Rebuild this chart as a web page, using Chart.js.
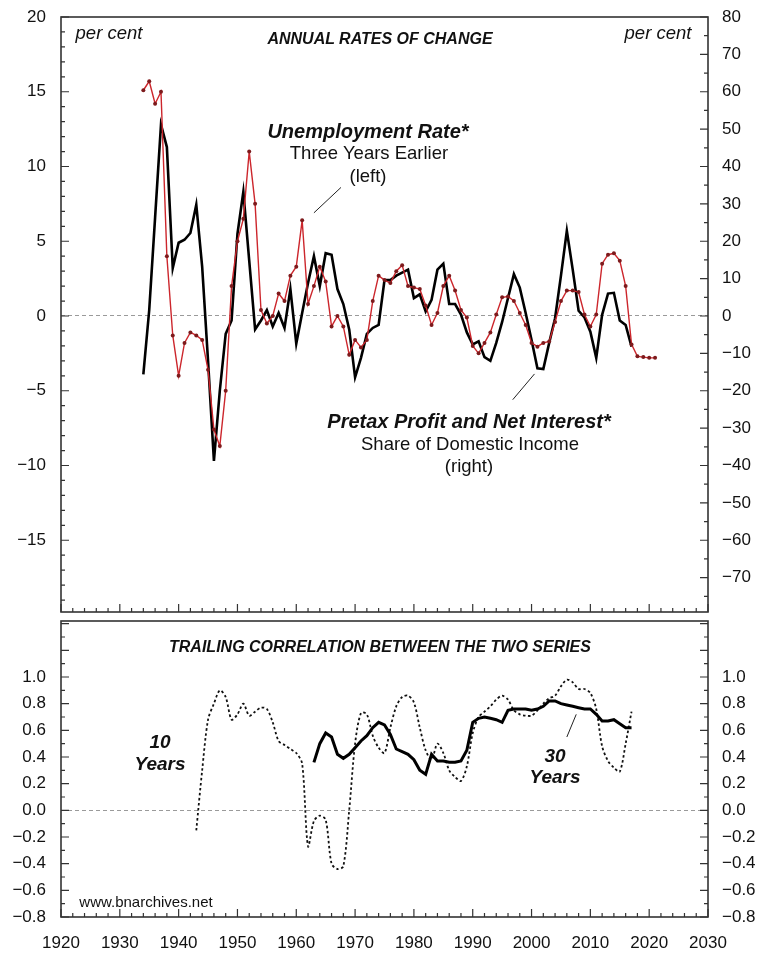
<!DOCTYPE html>
<html lang="en">
<head>
<meta charset="UTF-8">
<title>Unemployment and Profit Share</title>
<script src="https://cdn.jsdelivr.net/npm/chart.js"></script>
<style>
  body { margin: 0; background: #fff; width: 778px; height: 955px; position: relative; overflow: hidden;
         font-family: 'Liberation Sans', Arial, Helvetica, sans-serif; color: #111; }
  canvas { position: absolute; left: 0; }
  #topChart { top: 0; }
  #bottomChart { top: 616px; }
  .t { position: absolute; white-space: nowrap; line-height: 1; transform: translate(-50%, -50%); }
  .bi { font-weight: bold; font-style: italic; }
  .it { font-style: italic; }
</style>
</head>
<body>
<canvas id="topChart" width="778" height="616"></canvas>
<canvas id="bottomChart" width="778" height="339"></canvas>

<!-- text on top panel -->
<div class="t it" style="left:109px; top:33px; font-size:18.5px;">per cent</div>
<div class="t it" style="left:658px; top:33px; font-size:18.5px;">per cent</div>
<div class="t bi" style="left:380px; top:39px; font-size:16px;">ANNUAL RATES OF CHANGE</div>
<div class="t bi" style="left:368px; top:131px; font-size:20px;">Unemployment Rate*</div>
<div class="t" style="left:369px; top:153px; font-size:18.5px;">Three Years Earlier</div>
<div class="t" style="left:368px; top:176px; font-size:18.5px;">(left)</div>
<div class="t bi" style="left:469px; top:421px; font-size:20px;">Pretax Profit and Net Interest*</div>
<div class="t" style="left:470px; top:444px; font-size:18.5px;">Share of Domestic Income</div>
<div class="t" style="left:469px; top:466px; font-size:18.5px;">(right)</div>

<!-- text on bottom panel -->
<div class="t bi" style="left:380px; top:647px; font-size:16px;">TRAILING CORRELATION BETWEEN THE TWO SERIES</div>
<div class="t bi" style="left:160px; top:741px; font-size:19px;">10</div>
<div class="t bi" style="left:160px; top:763px; font-size:19px;">Years</div>
<div class="t bi" style="left:555px; top:755px; font-size:19px;">30</div>
<div class="t bi" style="left:555px; top:776px; font-size:19px;">Years</div>
<div class="t" style="left:146px; top:901px; font-size:15px;">www.bnarchives.net</div>

<script>
// ---- data ----
const years = { min: 1920, max: 2030 };
const xTicks = [1920, 1930, 1940, 1950, 1960, 1970, 1980, 1990, 2000, 2010, 2020, 2030];
const leftTicks = [20, 15, 10, 5, 0, -5, -10, -15];
const rightTicks = [80, 70, 60, 50, 40, 30, 20, 10, 0, -10, -20, -30, -40, -50, -60, -70];
const corrTicks = [1.0, 0.8, 0.6, 0.4, 0.2, 0.0, -0.2, -0.4, -0.6, -0.8];

// unemployment rate three years earlier, annual % change (left), 1934-2021
const unempStart = 1934;
const unemployment = [
  15.1, 15.7, 14.2, 15.0, 4.0, -1.3, -4.0, -1.8, -1.1, -1.3,
  -1.6, -3.6, -7.6, -8.7, -5.0, 2.0, 5.0, 6.5, 11.0, 7.5,
  0.4, -0.5, 0.0, 1.5, 1.0, 2.7, 3.3, 6.4, 0.8, 2.0,
  3.3, 2.3, -0.7, 0.0, -0.7, -2.6, -1.6, -2.1, -1.6, 1.0,
  2.7, 2.4, 2.2, 3.0, 3.4, 2.0, 1.9, 1.8, 0.7, -0.6,
  0.2, 2.0, 2.7, 1.7, 0.4, -0.1, -2.0, -2.5, -1.8, -1.1,
  0.1, 1.25, 1.3, 1.0, 0.2, -0.6, -1.8, -2.05, -1.8, -1.7,
  -0.4, 1.0, 1.7, 1.7, 1.6, 0.1, -0.7, 0.1, 3.5, 4.1,
  4.2, 3.7, 2.0, -1.9, -2.7, -2.75, -2.8, -2.8
];

// pretax profit and net interest share of domestic income, annual % change (right), 1934-2017
const profitStart = 1934;
const profitShare = [
  -15.6, 1.6, 26.4, 51.2, 45.2, 12.8, 19.6, 20.4, 22.2, 29.8,
  13.2, -12.0, -38.8, -20.0, -4.8, -1.2, 22.0, 33.2, 14.8, -3.6,
  -1.2, 1.6, -2.8, 0.8, -3.2, 7.2, -7.4, 0.8, 8.8, 16.0,
  8.0, 16.8, 16.4, 7.2, 3.2, -3.6, -16.4, -11.2, -4.8, -3.2,
  -2.4, 9.6, 9.6, 10.8, 11.6, 12.4, 4.8, 5.8, 1.2, 4.3,
  12.4, 14.0, 3.2, 3.2, 0.4, -4.4, -7.6, -6.8, -11.0, -12.0,
  -7.2, -1.6, 4.8, 11.2, 7.6, 0.8, -6.4, -14.0, -14.2, -7.2,
  -0.6, 10.8, 22.8, 12.4, 1.4, -0.4, -4.2, -11.2, 0.3, 6.0,
  6.2, -1.2, -2.4, -8.2
];

// trailing correlations
const corr10Start = 1943;
const corr10 = [
  -0.15, 0.3, 0.68, 0.8, 0.9, 0.85, 0.68, 0.72, 0.8, 0.71,
  0.74, 0.77, 0.76, 0.66, 0.52, 0.49, 0.46, 0.43, 0.35, -0.27,
  -0.08, -0.04, -0.07, -0.4, -0.44, -0.42, 0.0, 0.5, 0.73, 0.72,
  0.56, 0.47, 0.43, 0.62, 0.78, 0.85, 0.86, 0.81, 0.62, 0.45,
  0.38, 0.5, 0.43, 0.3, 0.25, 0.22, 0.33, 0.58, 0.7, 0.74,
  0.78, 0.83, 0.86, 0.83, 0.75, 0.72, 0.71, 0.71, 0.75, 0.8,
  0.84, 0.86, 0.93, 0.98, 0.96, 0.91, 0.91, 0.88, 0.76, 0.48,
  0.37, 0.32, 0.29, 0.5, 0.74
];
const corr30Start = 1963;
const corr30 = [
  0.36, 0.5, 0.58, 0.55, 0.42, 0.39, 0.42, 0.47, 0.52, 0.56,
  0.62, 0.66, 0.64, 0.57, 0.46, 0.44, 0.42, 0.38, 0.3, 0.27,
  0.42, 0.37, 0.37, 0.36, 0.36, 0.37, 0.45, 0.66, 0.69, 0.7,
  0.69, 0.68, 0.66, 0.75, 0.76, 0.76, 0.76, 0.75, 0.76, 0.78,
  0.82, 0.82, 0.8, 0.79, 0.78, 0.77, 0.76, 0.76, 0.72, 0.67,
  0.67, 0.68, 0.65, 0.62, 0.62
];

// pointer lines for the labels, in data units [x, y] -> [x, y]
const unempPointer = [[1963.0, 6.9], [1967.6, 8.6]];
const profitPointer = [[1996.8, -22.4], [2000.5, -15.5]];
const corrPointer = [[2006.0, 0.55], [2007.6, 0.72]];

const toPoints = (start, arr) => arr.map((v, i) => ({ x: start + i, y: v }));
const minus = v => String(v).replace('-', '\u2212');
const tickFont = { family: "'Liberation Sans', Arial, sans-serif", size: 17 };

// frame + inward tick marks + pointers
function innerTicks(chart, id, step, major, edge) {
  const s = chart.scales[id], a = chart.chartArea, ctx = chart.ctx;
  const n0 = Math.ceil(s.min / step - 1e-9), n1 = Math.floor(s.max / step + 1e-9);
  const every = Math.round(major / step);
  ctx.beginPath();
  for (let n = n0; n <= n1; n++) {
    const len = (n % every === 0) ? 8 : 4;
    const p = s.getPixelForValue(n * step);
    if (edge === 'bottom') { ctx.moveTo(p, a.bottom); ctx.lineTo(p, a.bottom - len); }
    if (edge === 'left') { ctx.moveTo(a.left, p); ctx.lineTo(a.left + len, p); }
    if (edge === 'right') { ctx.moveTo(a.right, p); ctx.lineTo(a.right - len, p); }
  }
  ctx.stroke();
}

function framePlugin(tickSpec, pointer) {
  return {
    id: 'frame',
    afterDraw(chart) {
      const ctx = chart.ctx, a = chart.chartArea;
      ctx.save();
      ctx.strokeStyle = '#333';
      ctx.lineWidth = 1.2;
      tickSpec.forEach(t => innerTicks(chart, t[0], t[1], t[2], t[3]));
      ctx.lineWidth = 1.6;
      ctx.strokeRect(a.left, a.top, a.right - a.left, a.bottom - a.top);
      ctx.lineWidth = 1;
      ctx.strokeStyle = '#222';
      pointer.forEach(([p0, p1, yId]) => {
        const sx = chart.scales.x, sy = chart.scales[yId];
        ctx.beginPath();
        ctx.moveTo(sx.getPixelForValue(p0[0]), sy.getPixelForValue(p0[1]));
        ctx.lineTo(sx.getPixelForValue(p1[0]), sy.getPixelForValue(p1[1]));
        ctx.stroke();
      });
      ctx.restore();
    }
  };
}

function yAxis(pos, min, max, ticks, width, fmt, zeroLine) {
  return {
    position: pos, min: min, max: max,
    afterBuildTicks: s => { s.ticks = ticks.map(v => ({ value: v })); },
    afterFit: s => { s.width = width; s.paddingTop = 0; s.paddingBottom = 0; },
    ticks: { font: tickFont, color: '#111', padding: pos === 'left' ? 15 : 14, callback: fmt },
    grid: {
      drawTicks: false,
      drawOnChartArea: zeroLine,
      color: c => (c.tick && c.tick.value === 0) ? '#9a9a9a' : 'rgba(0,0,0,0)',
      lineWidth: 1
    },
    border: { display: false, dash: [4, 3] }
  };
}

// ---- top panel ----
new Chart(document.getElementById('topChart'), {
  type: 'line',
  data: {
    datasets: [
      {
        label: 'Unemployment Rate',
        data: toPoints(unempStart, unemployment),
        yAxisID: 'yL',
        borderColor: '#cc262c',
        borderWidth: 1.4,
        pointRadius: 2,
        pointBackgroundColor: '#7d1a1c',
        pointBorderWidth: 0,
        tension: 0
      },
      {
        label: 'Profit Share',
        data: toPoints(profitStart, profitShare),
        yAxisID: 'yR',
        borderColor: '#000',
        borderWidth: 2.6,
        pointRadius: 0,
        tension: 0
      }
    ]
  },
  options: {
    responsive: false,
    animation: false,
    layout: { padding: { top: 17, bottom: 3, left: 0, right: 0 } },
    plugins: { legend: { display: false }, tooltip: { enabled: false } },
    scales: {
      x: { type: 'linear', min: years.min, max: years.max, display: false },
      yL: yAxis('left', -19.8, 20, leftTicks, 61, v => minus(v), true),
      yR: yAxis('right', -79.2, 80, rightTicks, 70, v => minus(v), false)
    }
  },
  plugins: [framePlugin(
    [['yL', 1, 5, 'left'], ['yR', 5, 10, 'right'], ['x', 2, 10, 'bottom']],
    [[unempPointer[0], unempPointer[1], 'yL'], [profitPointer[0], profitPointer[1], 'yR']]
  )]
});

// ---- bottom panel ----
new Chart(document.getElementById('bottomChart'), {
  type: 'line',
  data: {
    datasets: [
      {
        label: '30 Years',
        data: toPoints(corr30Start, corr30),
        yAxisID: 'yL',
        borderColor: '#000',
        borderWidth: 3,
        pointRadius: 0,
        tension: 0
      },
      {
        label: '10 Years',
        data: toPoints(corr10Start, corr10),
        yAxisID: 'yL',
        borderColor: '#111',
        borderWidth: 1.8,
        borderDash: [2.5, 2.5],
        pointRadius: 0,
        tension: 0.3
      }
    ]
  },
  options: {
    responsive: false,
    animation: false,
    layout: { padding: { top: 5, bottom: 0, left: 0, right: 0 } },
    plugins: { legend: { display: false }, tooltip: { enabled: false } },
    scales: {
      x: {
        type: 'linear', min: years.min, max: years.max, position: 'bottom',
        afterBuildTicks: s => { s.ticks = xTicks.map(v => ({ value: v })); },
        afterFit: s => { s.height = 38; s.paddingLeft = 0; s.paddingRight = 0; },
        ticks: { font: tickFont, color: '#111', padding: 8, maxRotation: 0, callback: v => String(v) },
        grid: { display: false },
        border: { display: false }
      },
      yL: yAxis('left', -0.8, 1.42, corrTicks, 61, v => minus(v.toFixed(1)), true),
      yR: yAxis('right', -0.8, 1.42, corrTicks, 70, v => minus(v.toFixed(1)), false)
    }
  },
  plugins: [framePlugin(
    [['yL', 0.1, 0.2, 'left'], ['yR', 0.1, 0.2, 'right'], ['x', 2, 10, 'bottom']],
    [[corrPointer[0], corrPointer[1], 'yL']]
  )]
});
</script>
</body>
</html>
